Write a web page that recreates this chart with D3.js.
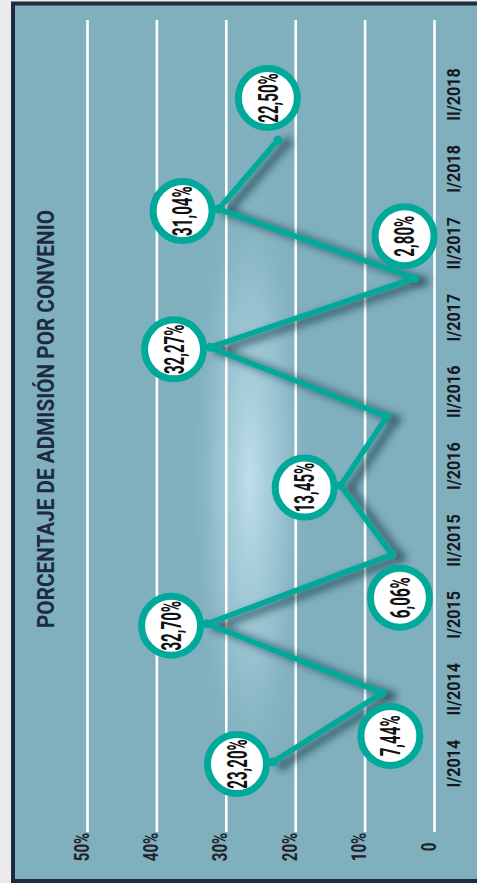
<!DOCTYPE html>
<html><head><meta charset="utf-8">
<script src="https://cdn.jsdelivr.net/npm/d3@7"></script>
<style>html,body{margin:0;padding:0;background:#ebebeb;}svg{display:block;}</style>
</head><body>
<svg id="c" width="477" height="883"></svg>
<script>
const title = "PORCENTAJE DE ADMISIÓN POR CONVENIO";
const categories = ["I/2014","II/2014","I/2015","II/2015","I/2016","II/2016","I/2017","II/2017","I/2018","II/2018"];
const values = [23.20, 7.44, 32.70, 6.06, 13.45, 6.8, 32.27, 2.80, 31.04, 22.50];
const labelShown = [true, true, true, true, true, false, true, true, true, true];
const yTicks = [0, 10, 20, 30, 40, 50];

// label placement relative to its point (style config)
const labelSide = ["left","below","left","below","left",null,"left","above","left","above"];
const sideOffset = {left:[-36,2], below:[8,43], above:[-10,-42]};

const svg = d3.select("#c");
const FONT = "Roboto, 'Noto Sans', sans-serif";
const teal = "#00a99a";

const defs = svg.append("defs");
const rg = defs.append("radialGradient").attr("id","glow");
rg.append("stop").attr("offset","0%").attr("stop-color","#c6e4ef").attr("stop-opacity",0.9);
rg.append("stop").attr("offset","55%").attr("stop-color","#aed4e1").attr("stop-opacity",0.45);
rg.append("stop").attr("offset","100%").attr("stop-color","#80afbe").attr("stop-opacity",0);
const f = defs.append("filter").attr("id","sh").attr("filterUnits","userSpaceOnUse")
  .attr("x",0).attr("y",0).attr("width",477).attr("height",883);
f.append("feDropShadow").attr("dx",9).attr("dy",3).attr("stdDeviation",4)
  .attr("flood-color","#102a36").attr("flood-opacity",0.8);

// panel
svg.append("rect").attr("x",13).attr("y",3.5).attr("width",480).attr("height",877.5)
  .attr("fill","#80afbe").attr("stroke","#1c2b41").attr("stroke-width",4);
svg.append("ellipse").attr("cx",250).attr("cy",480).attr("rx",64).attr("ry",340).attr("fill","url(#glow)");

const val = d3.scaleLinear().domain([0,50]).range([434,87]);
const catLabel = d3.scalePoint().domain(categories).range([763,94]);
const catPoint = d3.scalePoint().domain(categories).range([762,140]);

// value axis with gridlines
const ax = svg.append("g").attr("transform","translate(0,832)")
  .call(d3.axisBottom(val).tickValues(yTicks).tickSize(-812)
    .tickFormat(d => d === 0 ? "0" : d + "%"));
ax.select(".domain").remove();
ax.selectAll(".tick line").attr("stroke","#ffffff").attr("stroke-width",2.6);
ax.selectAll(".tick text").attr("x",null).attr("y",null).attr("dy",null)
  .attr("text-anchor","middle").attr("fill","#1e2226")
  .attr("font-family",FONT).attr("font-weight",700).attr("font-size",21)
  .attr("transform","translate(1,15) rotate(-90) scale(0.72,1)");

// category axis
const cx = svg.append("g").attr("transform","translate(460,0)")
  .call(d3.axisRight(catLabel).tickSize(0));
cx.select(".domain").remove();
cx.selectAll(".tick text").attr("x",null).attr("y",null).attr("dy",null)
  .attr("text-anchor","middle").attr("fill","#15181c")
  .attr("font-family",FONT).attr("font-weight",700).attr("font-size",19)
  .attr("transform","rotate(-90) scale(0.85,1)");

// title
svg.append("text").text(title)
  .attr("transform","translate(54,419) rotate(-90)")
  .attr("text-anchor","middle").attr("fill","#1c2b41")
  .attr("font-family",FONT).attr("font-weight",700).attr("font-size",24)
  .attr("textLength",418).attr("lengthAdjust","spacingAndGlyphs");

// line
const pts = categories.map((c,i) => ({c, v: values[i], i, x: val(values[i]), y: catPoint(c)}));
const line = d3.line().x(d => d.x).y(d => d.y);
const lg = svg.append("g").attr("filter","url(#sh)");
lg.append("path").datum(pts).attr("d",line).attr("fill","none")
  .attr("stroke",teal).attr("stroke-width",5.5).attr("stroke-linejoin","round");
lg.selectAll("circle.v").data(pts).join("circle").attr("class","v")
  .attr("cx",d => d.x).attr("cy",d => d.y).attr("r",4.5).attr("fill",teal);

// labels
const fmt = v => d3.format(".2f")(v).replace(".", ",") + "%";
const lab = svg.selectAll("g.lab").data(pts.filter(d => labelShown[d.i])).join("g").attr("class","lab")
  .attr("transform", d => {
    const o = sideOffset[labelSide[d.i]];
    return `translate(${d.x + o[0]},${d.y + o[1]})`;
  });
lab.append("circle").attr("r",29.5).attr("fill","#ffffff").attr("stroke",teal).attr("stroke-width",7);
lab.append("text").text(d => fmt(d.v))
  .attr("transform","rotate(-90) scale(0.56,1)")
  .attr("text-anchor","middle").attr("dy","0.36em").attr("fill","#111")
  .attr("font-family",FONT).attr("font-weight",700).attr("font-size",27);
</script>
</body></html>
